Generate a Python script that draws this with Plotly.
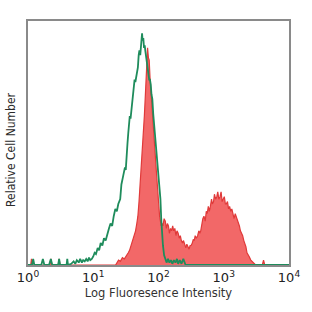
import plotly.graph_objects as go

tick_vals = [1, 10, 100, 1000, 10000]
tick_text = ["10<sup>0</sup>", "10<sup>1</sup>", "10<sup>2</sup>", "10<sup>3</sup>", "10<sup>4</sup>"]

green_x = [1, 1.15, 1.2, 1.25, 1.6, 1.69, 1.78, 2.1, 2.24, 2.35, 2.9, 3.0, 3.1, 3.6, 3.9, 4.0, 4.1,
           4.6, 5.0, 5.3, 5.6, 6.0, 6.3, 6.7, 7.0, 7.4, 7.8, 8.2, 8.6, 9.0, 9.5, 10.0, 10.5, 11.0,
           11.7, 12.3, 13.0, 13.8, 14.6, 15.5, 16.4, 17.4, 18.4, 19.5, 20.6, 21.8, 23.0, 24.2,
           25.9, 27.0, 28.5, 30.6, 31.5, 32.5, 33.5, 34.4, 35.3, 36.3, 37.3, 38.5, 39.6, 40.7,
           41.8, 43.0, 44.2, 45.5, 46.8, 48.3, 49.7, 51.0, 52.5, 54.0, 55.2, 56.0, 57.0, 58.5,
           60.0, 61.5, 62.7, 64.5, 66.0, 68.0, 70.0, 72.0, 74.0, 76.0, 78.0, 80.5, 83.0, 85.5,
           88.3, 91.0, 94.0, 97.8, 101, 104, 107, 110, 113, 117, 122, 127, 133, 140, 147, 155,
           163, 172, 182, 192, 200, 212, 225, 240, 260, 280, 300, 400, 10000]
green_y = [0, 0, 2.5, 0, 0, 2.5, 0, 0, 2.5, 0, 0, 2.5, 0, 0, 0, 2.5, 0,
           0.5, 1.5, 0.5, 2, 1, 2.5, 1, 2, 1.5, 2.5, 1.5, 3, 2, 2.5, 3.5, 5, 4.5,
           7, 6, 9, 8, 11, 10, 13, 15, 17, 16, 20, 23, 22, 25,
           27, 33, 36, 40, 39, 47, 50, 54, 58, 61, 60, 64, 66, 68,
           73, 76, 75, 77, 80, 81, 86, 88, 86, 90, 93, 95, 92, 93,
           89, 90, 88, 85, 83, 81, 79, 76, 76, 74, 70, 68, 62, 58,
           54, 49, 45, 40, 35, 30, 27, 19, 13, 8, 4, 2, 1, 2.5, 1, 2,
           0.5, 2, 1, 2.5, 0.5, 2, 0.5, 2.5, 0, 0, 0, 0, 0]

red_x = [1, 1.1, 1.13, 1.17, 2.15, 2.24, 2.33, 2.9, 3.0, 3.1, 22, 24.4, 26, 28, 30, 32, 34.4,
         36, 38, 40.7, 42.5, 44.5, 46.5, 48.3, 50.3, 52.3, 54.5, 57.3, 59, 60.7, 62.5, 64.2,
         66, 67, 68, 69, 70, 72, 74, 76, 78, 80.5, 83, 85.2, 87.5, 90.3, 93, 95.5, 98, 101,
         104, 107, 110, 113, 117, 122, 127, 132, 137, 142, 147, 153, 159, 165, 171, 178, 185,
         192, 200, 208, 216, 224, 233, 242, 251, 262, 272, 282, 294, 305, 316, 330, 341, 353,
         365, 380, 398, 415, 430, 444, 460, 478, 497, 520, 540, 557, 580, 600, 624, 650, 670,
         698, 720, 750, 783, 810, 840, 877, 910, 945, 980, 1020, 1060, 1097, 1140, 1185, 1230,
         1280, 1330, 1380, 1440, 1500, 1550, 1620, 1680, 1738, 1800, 1870, 1950, 2030, 2110,
         2185, 2270, 2350, 2450, 2600, 2750, 2900, 3080, 3900, 4070, 4250, 10000]
red_y = [0, 0, 2.5, 0, 0, 2.5, 0, 0, 2.5, 0, 0, 2, 1.5, 3, 2.5, 4, 5,
         6, 8, 10, 12, 14, 17, 20, 26, 33, 39, 47, 54, 61, 68, 75,
         81, 86, 89, 87, 85, 84, 77, 72, 66, 61, 55, 51, 47, 43, 38, 33, 28, 24,
         20, 18, 16, 17, 16, 19, 18, 15, 17, 16, 13, 15, 14, 16, 14, 15, 12,
         14, 13, 11, 12, 10, 9, 10, 8, 7, 8.5, 7.5, 6.5, 8, 8, 9, 10.5, 10,
         12, 11, 12, 14, 13, 14, 17, 19, 20, 18, 22, 21, 24, 22, 24, 27, 25,
         26, 29, 27, 28, 30, 27, 28, 30, 26, 27, 28, 25, 25, 26, 23, 24,
         22, 23, 21, 19, 21, 20, 18, 17, 16, 14, 13, 12, 10, 9,
         7.5, 5, 4.5, 3.5, 2, 1.4, 0.5, 0, 0, 2, 0, 0]

fig = go.Figure()
fig.add_trace(go.Scatter(x=red_x, y=red_y, mode="lines", fill="tozeroy",
                         fillcolor="#f26868", line=dict(color="#e03a3a", width=1.2),
                         hoverinfo="skip"))
fig.add_trace(go.Scatter(x=green_x, y=green_y, mode="lines",
                         line=dict(color="#1f8c5c", width=1.8), hoverinfo="skip"))

fig.update_layout(
    width=312, height=312,
    margin=dict(l=28, r=14, t=21, b=47),
    paper_bgcolor="white", plot_bgcolor="white",
    showlegend=False,
    font=dict(family="DejaVu Sans", color="#2a2a2a"),
    xaxis=dict(type="log", range=[0, 4], tickvals=tick_vals, ticktext=tick_text,
               showgrid=False, zeroline=False, showline=True, mirror=True,
               linecolor="#8a8a8a", linewidth=1.5, ticks="",
               tickfont=dict(size=13, color="#222222"),
               title=dict(text="Log Fluoresence Intensity", font=dict(size=11.5, color="#333333"),
                          standoff=5)),
    yaxis=dict(range=[0, 100], showticklabels=False, showgrid=False, zeroline=False,
               showline=True, mirror=True, linecolor="#8a8a8a", linewidth=1.5, ticks=""),
    annotations=[dict(text="Relative Cell Number", textangle=-90, xref="paper", yref="paper",
                      x=-0.063, y=0.47, xanchor="center", yanchor="middle", showarrow=False,
                      font=dict(family="DejaVu Sans Condensed", size=12, color="#2a2a2a"))],
)

fig.write_html("out.html")
